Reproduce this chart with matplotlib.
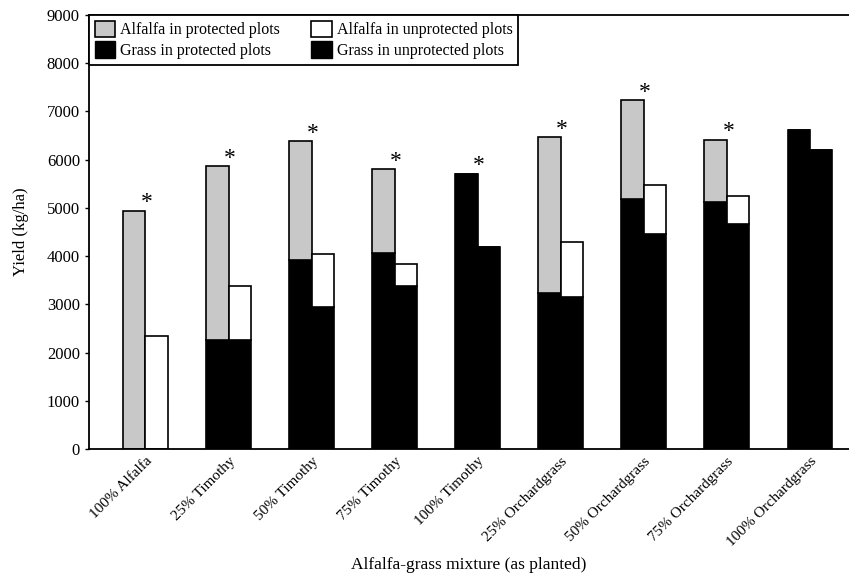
import matplotlib
matplotlib.use("Agg")
import matplotlib.pyplot as plt
import numpy as np
from matplotlib.patches import Patch

plt.rcParams['font.family'] = ['Liberation Serif', 'DejaVu Serif']

# categories (as planted)
mixtures = ['100% Alfalfa', '25% Timothy', '50% Timothy', '75% Timothy',
            '100% Timothy', '25% Orchardgrass', '50% Orchardgrass',
            '75% Orchardgrass', '100% Orchardgrass']

# protected plots: grass part and alfalfa part (kg/ha)
grass_prot = [0, 2260, 3920, 4070, 5700, 3240, 5180, 5130, 6610]
alf_prot = [4940, 3600, 2460, 1730, 0, 3220, 2050, 1280, 0]

# unprotected plots
grass_unprot = [0, 2250, 2950, 3370, 4180, 3160, 4460, 4660, 6210]
alf_unprot = [2340, 1120, 1090, 470, 0, 1130, 1020, 590, 0]

# significant difference marks
signif = [True, True, True, True, True, True, True, True, False]

x = np.arange(len(mixtures))
w = 0.27
gray = '#c8c8c8'

fig = plt.figure(figsize=(8.49, 5.74), dpi=100)
ax = fig.add_axes([0.1048, 0.2178, 0.8952, 0.7561])

ax.bar(x - w / 2, grass_prot, w, color='black', edgecolor='black', linewidth=1.2)
ax.bar(x - w / 2, alf_prot, w, bottom=grass_prot, color=gray,
       edgecolor='black', linewidth=1.2)
ax.bar(x + w / 2, grass_unprot, w, color='black', edgecolor='black', linewidth=1.2)
ax.bar(x + w / 2, alf_unprot, w, bottom=grass_unprot, color='white',
       edgecolor='black', linewidth=1.2)

# asterisks above protected bars
for i in range(len(mixtures)):
    if signif[i]:
        top = grass_prot[i] + alf_prot[i]
        ax.annotate('*', (x[i], top), xytext=(1, 2), textcoords='offset points',
                    ha='center', va='baseline', fontsize=17)

ax.set_xlim(-0.68, 8.47)
ax.set_ylim(0, 9000)
ax.set_yticks(np.arange(0, 9001, 1000))
ax.tick_params(axis='y', labelsize=12, length=3, width=1, direction='out')
ax.tick_params(axis='x', length=0, labelsize=11, pad=4)
ax.set_xticks(x)
ax.set_xticklabels(mixtures, rotation=45, ha='right', va='top',
                   rotation_mode='anchor')
ax.spines['right'].set_visible(False)
for s in ['left', 'bottom', 'top']:
    ax.spines[s].set_linewidth(1.3)

ax.set_ylabel('Yield (kg/ha)', fontsize=12, labelpad=13)
ax.set_xlabel('Alfalfa-grass mixture (as planted)', fontsize=12.5, labelpad=6)

# legend
handles = [Patch(facecolor=gray, edgecolor='black', linewidth=1.2),
           Patch(facecolor='black', edgecolor='black'),
           Patch(facecolor='white', edgecolor='black', linewidth=1.2),
           Patch(facecolor='black', edgecolor='black')]
labels = ['Alfalfa in protected plots', 'Grass in protected plots',
          'Alfalfa in unprotected plots', 'Grass in unprotected plots']
leg = ax.legend(handles, labels, ncol=2, loc='upper left', bbox_to_anchor=(0, 1),
                borderaxespad=0, fancybox=False, fontsize=11.5, handlelength=1.3,
                handleheight=1.2, handletextpad=0.3, columnspacing=1.95,
                labelspacing=0.2, borderpad=0.35, framealpha=1)
leg.get_frame().set_edgecolor('black')
leg.get_frame().set_linewidth(1.3)

fig.savefig('out.png', dpi=100)
